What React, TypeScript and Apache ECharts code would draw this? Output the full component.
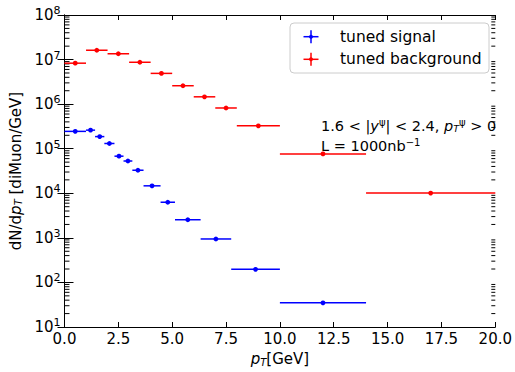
import React, { useEffect, useRef } from "react";
import * as echarts from "echarts";

// ---- data ----
const seriesNames = ["tuned signal", "tuned background"];
const seriesColors = ["#0000ff", "#ff0000"];

const signalEdges = [0, 1, 1.42, 1.85, 2.32, 2.74, 3.15, 3.67, 4.46, 5.13, 6.32, 7.74, 10, 14];
const signalValues = [2.45e5, 2.61e5, 1.87e5, 1.31e5, 6.8e4, 5.3e4, 3.29e4, 1.47e4, 6.3e3, 2.55e3, 944, 197, 34.8];

const backgroundEdges = [0, 1, 2, 3, 4, 5, 6, 7, 8, 10, 14, 20];
const backgroundValues = [8.3e6, 1.62e7, 1.35e7, 8.7e6, 4.9e6, 2.59e6, 1.46e6, 8.2e5, 3.26e5, 7.65e4, 1.01e4];

const xTickValues = [0, 2.5, 5, 7.5, 10, 12.5, 15, 17.5, 20];
const yDecades = [1, 2, 3, 4, 5, 6, 7, 8];
const minorMultipliers = [2, 3, 4, 5, 6, 7, 8, 9];

const annotationLine1 = "1.6 < |{i|y}{sup|ψ}| < 2.4, {i|p}{sub|T}{sup|ψ} > 0";
const annotationLine2 = "L = 1000nb{sup|−1}";

const FONT = "DejaVu Sans";

function binsToData(edges: number[], values: number[]) {
  return values.map((v, i) => [edges[i], edges[i + 1], v]);
}

export default function App() {
  const ref = useRef<HTMLDivElement>(null);

  useEffect(() => {
    if (!ref.current) return;
    const chart = echarts.init(ref.current, null, { renderer: "svg" });

    const minorData: number[] = [];
    for (let d = 1; d < 8; d++) {
      for (const m of minorMultipliers) minorData.push(m * Math.pow(10, d));
    }

    const errRender = (color: string) => (params: any, api: any) => {
      const lo = api.value(0);
      const hi = api.value(1);
      const y = api.value(2);
      const p1 = api.coord([lo, y]);
      const p2 = api.coord([hi, y]);
      const c = api.coord([(lo + hi) / 2, y]);
      return {
        type: "group",
        children: [
          {
            type: "line",
            shape: { x1: p1[0], y1: p1[1], x2: p2[0], y2: p2[1] },
            style: { stroke: color, lineWidth: 1.5 },
          },
          {
            type: "circle",
            shape: { cx: c[0], cy: c[1], r: 2.4 },
            style: { fill: color },
          },
        ],
      };
    };

    const minorRender = (params: any, api: any) => {
      const v = api.value(0);
      const p = api.coord([0, v]);
      const cs = params.coordSys;
      const left = cs.x;
      const right = cs.x + cs.width;
      return {
        type: "group",
        children: [
          { type: "line", shape: { x1: left, y1: p[1], x2: left + 5, y2: p[1] }, style: { stroke: "#000", lineWidth: 1 } },
          { type: "line", shape: { x1: right, y1: p[1], x2: right - 4, y2: p[1] }, style: { stroke: "#000", lineWidth: 1 } },
        ],
      };
    };

    const gridLeft = 61, gridTop = 15, gridRight = 18, gridBottom = 38;

    const legendX = 290, legendY = 23;
    const legendChildren: any[] = [
      {
        type: "rect",
        shape: { x: legendX, y: legendY, width: 199, height: 50, r: 4 },
        style: { fill: "rgba(255,255,255,0.8)", stroke: "#cccccc", lineWidth: 1 },
      },
    ];
    seriesNames.forEach((name, i) => {
      const cy = legendY + 13.7 + i * 22.6;
      const cx = 311;
      legendChildren.push(
        { type: "line", shape: { x1: cx - 7.5, y1: cy, x2: cx + 7.5, y2: cy }, style: { stroke: seriesColors[i], lineWidth: 1.5 } },
        { type: "line", shape: { x1: cx, y1: cy - 6.5, x2: cx, y2: cy + 6.5 }, style: { stroke: seriesColors[i], lineWidth: 1.5 } },
        { type: "circle", shape: { cx, cy, r: 2 }, style: { fill: seriesColors[i] } },
        {
          type: "text",
          x: 340,
          y: cy,
          style: { text: name, fontFamily: FONT, fontSize: 15.5, fill: "#000", verticalAlign: "middle", align: "left" },
        }
      );
    });

    const rich = {
      i: { fontFamily: FONT, fontStyle: "italic", fontSize: 15 },
      sup: { fontFamily: FONT, fontSize: 10, padding: [0, 0, 8, 0] },
      sub: { fontFamily: FONT, fontStyle: "italic", fontSize: 10, padding: [6, 0, 0, 0] },
    };
    const richAnn = {
      i: { fontFamily: FONT, fontStyle: "italic", fontSize: 14.5 },
      sup: { fontFamily: FONT, fontSize: 10, padding: [0, 0, 8, 0] },
      sub: { fontFamily: FONT, fontStyle: "italic", fontSize: 9.5, padding: [5, 0, 0, 0] },
    };

    chart.setOption({
      animation: false,
      textStyle: { fontFamily: FONT },
      grid: { left: gridLeft, top: gridTop, right: gridRight, bottom: gridBottom },
      xAxis: [
        {
          type: "value",
          min: 0,
          max: 20,
          interval: 2.5,
          position: "bottom",
          axisLine: { lineStyle: { color: "#000", width: 1 } },
          axisTick: { inside: true, length: 5, lineStyle: { color: "#000" } },
          axisLabel: {
            color: "#000",
            fontSize: 15,
            fontFamily: FONT,
            margin: 4,
            formatter: (v: number) => (xTickValues.includes(v) ? v.toFixed(1) : ""),
          },
          splitLine: { show: false },
          name: "{i|p}{sub|T}[GeV]",
          nameLocation: "middle",
          nameGap: 24,
          nameTextStyle: { color: "#000", fontSize: 15, fontFamily: FONT, rich },
        },
        {
          type: "value",
          min: 0,
          max: 20,
          interval: 2.5,
          position: "top",
          axisLine: { lineStyle: { color: "#000", width: 1 } },
          axisTick: { inside: true, length: 5, lineStyle: { color: "#000" } },
          axisLabel: { show: false },
          splitLine: { show: false },
        },
      ],
      yAxis: [
        {
          type: "log",
          logBase: 10,
          min: 10,
          max: 1e8,
          position: "left",
          axisLine: { show: true, lineStyle: { color: "#000", width: 1 } },
          axisTick: { show: true, inside: true, length: 9, lineStyle: { color: "#000" } },
          axisLabel: {
            color: "#000",
            fontSize: 15,
            fontFamily: FONT,
            margin: 4,
            formatter: (v: number) => {
              const e = Math.round(Math.log10(v));
              return yDecades.includes(e) ? `10{sup|${e}}` : "";
            },
            rich: { sup: { fontFamily: FONT, fontSize: 11, padding: [0, 0, 9, 0] } },
          },
          splitLine: { show: false },
          name: "dN/d{i|p}{sub|T} [diMuon/GeV]",
          nameLocation: "middle",
          nameGap: 40,
          nameRotate: 90,
          nameTextStyle: { color: "#000", fontSize: 15, fontFamily: FONT, rich },
        },
        {
          type: "log",
          logBase: 10,
          min: 10,
          max: 1e8,
          position: "right",
          axisLine: { show: true, lineStyle: { color: "#000", width: 1 } },
          axisTick: { show: true, inside: true, length: 7, lineStyle: { color: "#000" } },
          axisLabel: { show: false },
          splitLine: { show: false },
        },
      ],
      series: [
        {
          type: "custom",
          name: "minor ticks",
          xAxisIndex: 0,
          yAxisIndex: 0,
          silent: true,
          data: minorData.map((v) => [v]),
          encode: { y: 0 },
          renderItem: minorRender,
          clip: false,
          z: 1,
        },
        {
          type: "custom",
          name: seriesNames[1],
          xAxisIndex: 0,
          yAxisIndex: 0,
          data: binsToData(backgroundEdges, backgroundValues),
          encode: { x: [0, 1], y: 2 },
          renderItem: errRender(seriesColors[1]),
          z: 3,
        },
        {
          type: "custom",
          name: seriesNames[0],
          xAxisIndex: 0,
          yAxisIndex: 0,
          data: binsToData(signalEdges, signalValues),
          encode: { x: [0, 1], y: 2 },
          renderItem: errRender(seriesColors[0]),
          z: 3,
        },
      ],
      graphic: [
        ...legendChildren.map((c) => ({ ...c, z: 10 })),
        {
          type: "text",
          x: 321,
          y: 126,
          z: 10,
          style: {
            text: annotationLine1,
            fontFamily: FONT,
            fontSize: 14.5,
            fill: "#000",
            verticalAlign: "middle",
            rich: richAnn,
          },
        },
        {
          type: "text",
          x: 321,
          y: 146,
          z: 10,
          style: {
            text: annotationLine2,
            fontFamily: FONT,
            fontSize: 14.5,
            fill: "#000",
            verticalAlign: "middle",
            rich: richAnn,
          },
        },
      ],
    });

    return () => chart.dispose();
  }, []);

  return (
    <div
      ref={ref}
      style={{ position: "fixed", left: 0, top: 0, width: 515, height: 372, background: "#fff" }}
    />
  );
}
